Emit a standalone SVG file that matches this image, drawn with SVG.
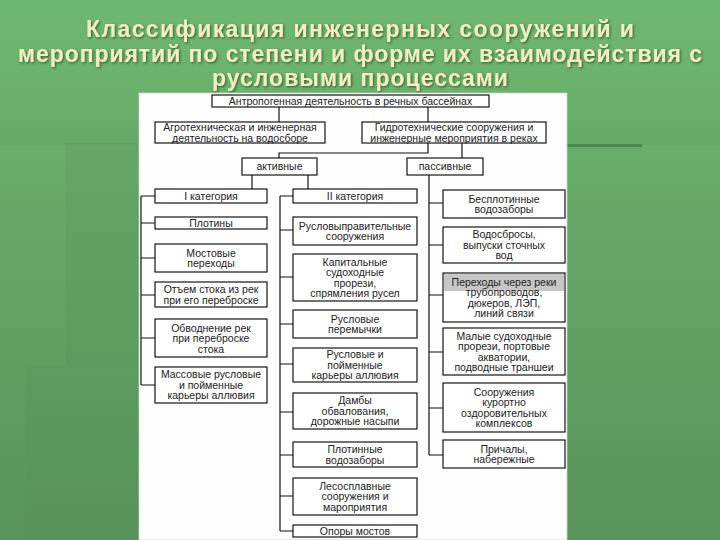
<svg xmlns="http://www.w3.org/2000/svg" width="720" height="540" viewBox="0 0 720 540">
<defs>
<linearGradient id="bg" x1="0" y1="0" x2="0" y2="1">
<stop offset="0" stop-color="#6fb870"/>
<stop offset="0.3" stop-color="#68ac69"/>
<stop offset="1" stop-color="#57935b"/>
</linearGradient>
<filter id="sh" x="-5%" y="-30%" width="110%" height="160%">
<feDropShadow dx="1.2" dy="1.2" stdDeviation="0.8" flood-color="#2c4a2c" flood-opacity="0.8"/>
</filter>
<style>
.t{font-family:"Liberation Sans",Arial,sans-serif;font-weight:bold;font-size:23px;fill:#f0efc2;text-anchor:middle}
.b{fill:#ffffff;stroke:#151515;stroke-width:1.2}
.l{font-family:"Liberation Sans",Arial,sans-serif;font-size:10.5px;fill:#222;text-anchor:middle}
.c{fill:none;stroke:#111;stroke-width:1.2}
</style>
</defs>
<rect x="0" y="0" width="720" height="540" fill="url(#bg)"/>
<rect x="0" y="120" width="720" height="25" fill="#5f9f62" opacity="0.25"/>
<rect x="66" y="143" width="74" height="222" fill="#4f8a52" opacity="0.18"/>
<rect x="25" y="365" width="115" height="175" fill="#4f8a52" opacity="0.12"/>
<rect x="567" y="144" width="75" height="3" fill="#4a874d"/>

<g id="title" filter="url(#sh)">
<text class="t" x="360" y="37" textLength="548" lengthAdjust="spacing">Классификация инженерных сооружений и</text>
<text class="t" x="360" y="62" textLength="684" lengthAdjust="spacing">мероприятий по степени и форме их взаимодействия с</text>
<text class="t" x="360" y="86" textLength="296" lengthAdjust="spacing">русловыми процессами</text>
</g>

<rect id="panel" x="139" y="93" width="428" height="447" fill="#fefefe" stroke="#c9d6c9" stroke-width="0.8"/>

<g id="connectors">
<path class="c" d="M279 107V122"/>
<path class="c" d="M428 107V122"/>
<path class="c" d="M428 143V153H279V158"/>
<path class="c" d="M462 143V158"/>
<path class="c" d="M252 175V189"/>
<path class="c" d="M308 175V189"/>
<path class="c" d="M141 196V385M141 196H155M141 223H155M141 258H155M141 295H155M141 338H155M141 385H155"/>
<path class="c" d="M280 196V531M280 196H293M280 230H293M280 277H293M280 324H293M280 364H293M280 412H293M280 455H293M280 496H293M280 531H293"/>
<path class="c" d="M429 175V455M429 203H443M429 245H443M429 295H443M429 352H443M429 408H443M429 455H443"/>
</g>

<g id="n-root"><rect class="b" x="212" y="95" width="277" height="12"/><text class="l" x="350.5" y="104.7">Антропогенная деятельность в речных бассейнах</text></g>
<g id="n-agro"><rect class="b" x="155" y="122" width="170" height="21"/><text class="l" x="240" y="131">Агротехническая и инженерная</text><text class="l" x="240" y="141.5">деятельность на водосборе</text></g>
<g id="n-gidro"><rect class="b" x="362" y="122" width="184" height="21"/><text class="l" x="454" y="131">Гидротехнические сооружения и</text><text class="l" x="454" y="141.5">инженерные мероприятия в реках</text></g>
<g id="n-active"><rect class="b" x="242" y="158" width="75" height="17"/><text class="l" x="279.5" y="170.2">активные</text></g>
<g id="n-passive"><rect class="b" x="407" y="158" width="76" height="17"/><text class="l" x="445" y="170.2">пассивные</text></g>

<g id="n-cat1"><rect class="b" x="155" y="189" width="112" height="14"/><text class="l" x="211" y="199.7">I категория</text></g>
<g id="n-l1"><rect class="b" x="155" y="217" width="112" height="12"/><text class="l" x="211" y="226.7">Плотины</text></g>
<g id="n-l2"><rect class="b" x="155" y="244" width="112" height="28"/><text class="l" x="211" y="256.5">Мостовые</text><text class="l" x="211" y="267">переходы</text></g>
<g id="n-l3"><rect class="b" x="155" y="282" width="112" height="25"/><text class="l" x="211" y="293">Отъем стока из рек</text><text class="l" x="211" y="303.5">при его переброске</text></g>
<g id="n-l4"><rect class="b" x="155" y="319" width="112" height="38"/><text class="l" x="211" y="331.5">Обводнение рек</text><text class="l" x="211" y="342">при переброске</text><text class="l" x="211" y="352.5">стока</text></g>
<g id="n-l5"><rect class="b" x="155" y="367" width="112" height="36"/><text class="l" x="211" y="378.2">Массовые русловые</text><text class="l" x="211" y="388.7">и пойменные</text><text class="l" x="211" y="399.2">карьеры аллювия</text></g>

<g id="n-cat2"><rect class="b" x="293" y="189" width="124" height="14"/><text class="l" x="355" y="199.7">II категория</text></g>
<g id="n-m1"><rect class="b" x="293" y="217" width="124" height="28"/><text class="l" x="355" y="229.5">Русловыправительные</text><text class="l" x="355" y="240">сооружения</text></g>
<g id="n-m2"><rect class="b" x="293" y="254" width="124" height="47"/><text class="l" x="355" y="265.5">Капитальные</text><text class="l" x="355" y="276">судоходные</text><text class="l" x="355" y="286.5">прорези,</text><text class="l" x="355" y="297">спрямления русел</text></g>
<g id="n-m3"><rect class="b" x="293" y="310" width="124" height="28"/><text class="l" x="355" y="322.5">Русловые</text><text class="l" x="355" y="333">перемычки</text></g>
<g id="n-m4"><rect class="b" x="293" y="348" width="124" height="34"/><text class="l" x="355" y="358.2">Русловые и</text><text class="l" x="355" y="368.7">пойменные</text><text class="l" x="355" y="379.2">карьеры аллювия</text></g>
<g id="n-m5"><rect class="b" x="293" y="393" width="124" height="36"/><text class="l" x="355" y="404.2">Дамбы</text><text class="l" x="355" y="414.7">обвалования,</text><text class="l" x="355" y="425.2">дорожные насыпи</text></g>
<g id="n-m6"><rect class="b" x="293" y="442" width="124" height="25"/><text class="l" x="355" y="453">Плотинные</text><text class="l" x="355" y="463.5">водозаборы</text></g>
<g id="n-m7"><rect class="b" x="293" y="478" width="124" height="37"/><text class="l" x="355" y="489.7">Лесосплавные</text><text class="l" x="355" y="500.2">сооружения и</text><text class="l" x="355" y="510.7">мароприятия</text></g>
<g id="n-m8"><rect class="b" x="293" y="525" width="124" height="12"/><text class="l" x="355" y="534.7">Опоры мостов</text></g>

<g id="n-r1"><rect class="b" x="443" y="190" width="122" height="28"/><text class="l" x="504" y="202.5">Бесплотинные</text><text class="l" x="504" y="213">водозаборы</text></g>
<g id="n-r2"><rect class="b" x="443" y="227" width="122" height="36"/><text class="l" x="504" y="238.2">Водосбросы,</text><text class="l" x="504" y="248.7">выпуски сточных</text><text class="l" x="504" y="259.2">вод</text></g>
<g id="n-r3"><rect class="b" x="443" y="273" width="122" height="49"/><rect x="444" y="274" width="120" height="17" fill="#c6c6c6"/><text class="l" x="504" y="285.5">Переходы через реки</text><text class="l" x="504" y="296">трубопроводов,</text><text class="l" x="504" y="306.5">дюкеров, ЛЭП,</text><text class="l" x="504" y="317">линий связи</text></g>
<g id="n-r4"><rect class="b" x="443" y="328" width="122" height="47"/><text class="l" x="504" y="339.5">Малые судоходные</text><text class="l" x="504" y="350">прорези, портовые</text><text class="l" x="504" y="360.5">акватории,</text><text class="l" x="504" y="371">подводные траншеи</text></g>
<g id="n-r5"><rect class="b" x="443" y="383" width="122" height="49"/><text class="l" x="504" y="395.5">Сооружения</text><text class="l" x="504" y="406">курортно</text><text class="l" x="504" y="416.5">оздоровительных</text><text class="l" x="504" y="427">комплексов</text></g>
<g id="n-r6"><rect class="b" x="443" y="440" width="122" height="28"/><text class="l" x="504" y="452.5">Причалы,</text><text class="l" x="504" y="463">набережные</text></g>
</svg>
